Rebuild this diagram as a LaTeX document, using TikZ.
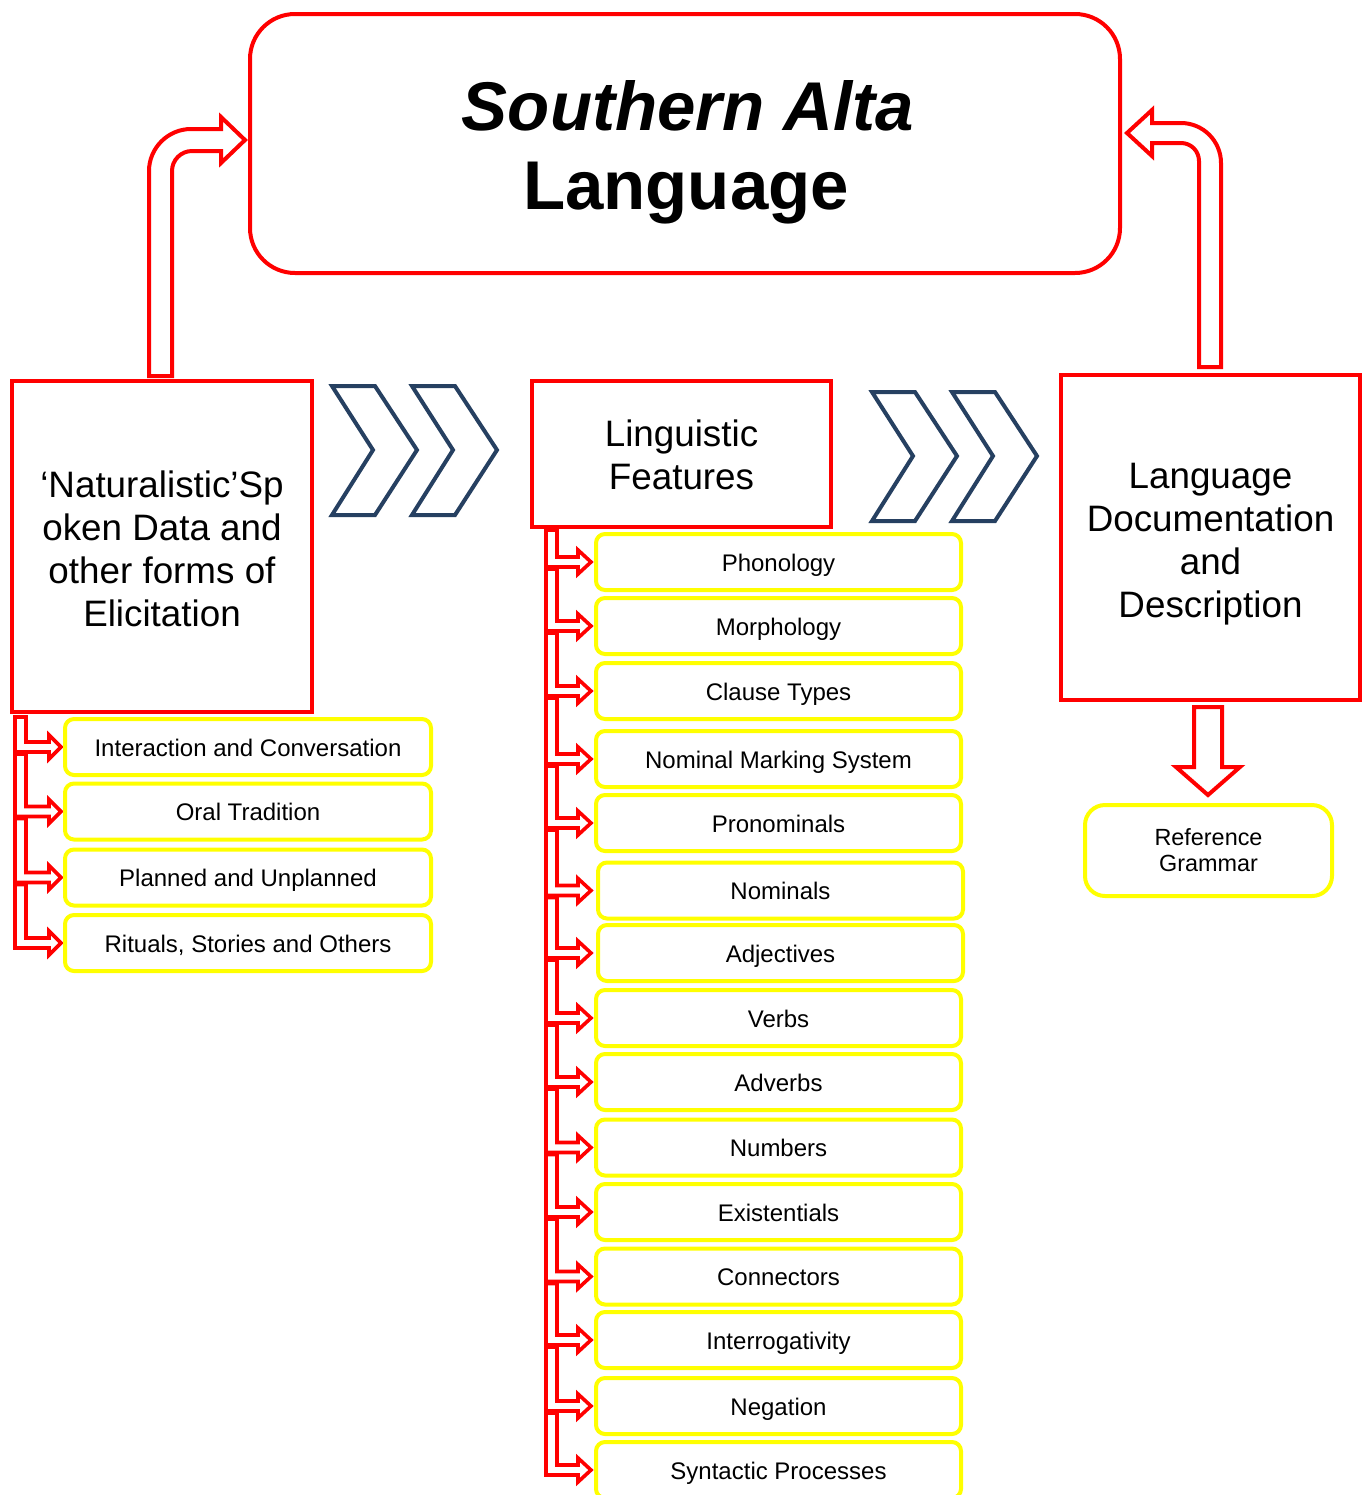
\documentclass[tikz,border=0pt]{standalone}
\usepackage{fontspec}
\setmainfont{Liberation Sans}
\definecolor{myred}{RGB}{255,0,0}
\definecolor{myyel}{RGB}{255,255,0}
\definecolor{chev}{RGB}{38,64,97}
\begin{document}
\begin{tikzpicture}[x=0.5pt,y=-0.5pt,
  redbox/.style={draw=myred, line width=2pt, inner sep=0pt, align=center, font=\fontsize{18.4}{21.5}\selectfont},
  boxtext/.style={inner sep=0pt, align=center, font=\fontsize{18.4}{21.5}\selectfont},
  ybox/.style={draw=myyel, line width=2pt, rounded corners=4.5pt, inner sep=0pt, font=\fontsize{12}{14}\selectfont, text height=11.8pt, text depth=2.6pt, minimum height=28pt},
  hollow/.style={draw=myred, line width=2pt, fill=white},
  smallarr/.style={draw=myred, line width=1.8pt, fill=white},
  chevron/.style={draw=chev, line width=2pt},
]
\useasboundingbox (0,0) rectangle (1370,1495);
\clip (0,0) rectangle (1370,1495);

% title
\node[draw=myred, line width=2pt, rounded corners=22.5pt, minimum width=435pt, minimum height=129.5pt, inner sep=0pt] (title) at (685,143.5) {};
\node[font=\fontsize{34.5}{41.5}\selectfont\bfseries\itshape, inner sep=0pt] (titleA) at (688,106) {Southern Alta};
\node[font=\fontsize{34.5}{41.5}\selectfont\bfseries, inner sep=0pt] (titleB) at (686,193) {Language};

% main boxes
\node[redbox, minimum width=150pt, minimum height=165.5pt] (left) at (162,546.5) {};
\node[boxtext] (leftt) at (162,549) {‘Naturalistic’Sp\\oken Data and\\other forms of\\Elicitation};
\node[redbox, minimum width=149.5pt, minimum height=73pt] (mid) at (681.5,454) {};
\node[boxtext] (midt) at (681.5,455) {Linguistic\\Features};
\node[redbox, minimum width=149.5pt, minimum height=162.5pt] (right) at (1210.5,537.5) {};
\node[boxtext] (rightt) at (1210.5,544) {Language\\Documentation\\and\\Description};

% chevrons
\foreach \dx/\dy in {0/0, 80/0, 540/6, 620/6}{
  \draw[chevron, shift={(\dx,\dy)}] (332,386) -- (375,386) -- (417,450) -- (375,515) -- (332,515) -- (373,450) -- cycle;
}

% bent up arrows
\draw[hollow] (149,376) -- (149,171) .. controls (149,148) and (168,129) .. (191,129) -- (221,129) -- (221,117) -- (245,140) -- (221,163) -- (221,151) -- (192,151) .. controls (181,151) and (172,160) .. (172,171) -- (172,376) -- cycle;
\draw[hollow] (1221,367) -- (1221,163) .. controls (1221,141) and (1203,123) .. (1181,123) -- (1152,123) -- (1152,110) -- (1127,133) -- (1152,156) -- (1152,143) -- (1181,143) .. controls (1191,143) and (1199,151) .. (1199,161) -- (1199,367) -- cycle;

% down arrow
\draw[hollow] (1194,707) -- (1222,707) -- (1222,767) -- (1240,767) -- (1208,795) -- (1176,767) -- (1194,767) -- cycle;
\node[ybox, rounded corners=10pt, minimum width=123.5pt, minimum height=45.5pt, text height=, text depth=, align=center, font=\fontsize{11.7}{13}\selectfont] (refg) at (1208.5,850.5) {Reference\\Grammar};

% left list
\foreach \t/\y [count=\i, remember=\y as \py (initially 710)] in {Interaction and Conversation/747, Oral Tradition/811.5, Planned and Unplanned/877.5, {Rituals, Stories and Others}/943}{
  \pgfmathsetmacro{\top}{\py+7}
  \draw[smallarr] (15,\top) -- (26,\top) -- (26,\y-5) -- (49,\y-5) -- (49,\y-12) -- (61,\y) -- (49,\y+12) -- (49,\y+5) -- (15,\y+5) -- cycle;
  \node[ybox, minimum width=183pt] (l\i) at (248,\y) {\t};
}

% middle list
\foreach \t/\y/\xc [count=\i, remember=\y as \py (initially 523)] in {
  Phonology/562/778.5, Morphology/626/778.5, Clause Types/691/778.5,
  Nominal Marking System/759/778.5, Pronominals/823/778.5, Nominals/890.5/780.5,
  Adjectives/953/780.5, Verbs/1018/778.5, Adverbs/1082/778.5, Numbers/1147.5/778.5,
  Existentials/1212/778.5, Connectors/1276.5/778.5, Interrogativity/1340/778.5,
  Negation/1406/778.5, Syntactic Processes/1470/778.5}{
  \pgfmathsetmacro{\top}{\py+7}
  \draw[smallarr] (546,\top) -- (557,\top) -- (557,\y-5) -- (578,\y-5) -- (578,\y-12) -- (591,\y) -- (578,\y+12) -- (578,\y+5) -- (546,\y+5) -- cycle;
  \node[ybox, minimum width=182.5pt] (m\i) at (\xc,\y) {\t};
}
\end{tikzpicture}
\end{document}
